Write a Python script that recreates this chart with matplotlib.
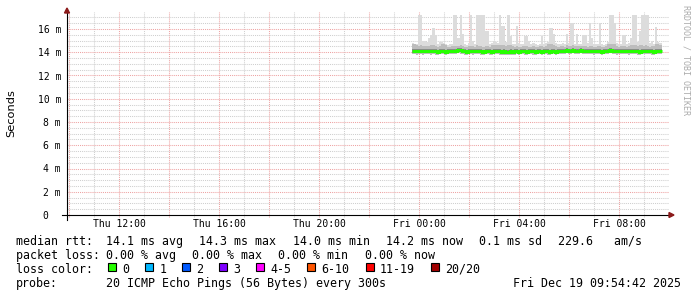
import numpy as np
import matplotlib.pyplot as plt
from matplotlib.patches import Rectangle, Polygon

W, H, DPI = 697, 297, 100

# hours since Thu 00:00
view_start = 9 + 55 / 60
data_start = 23.70
step_h = 5 / 60

# median rtt per 5 min step (ms)
median = [
    14.10, 14.12, 14.15, 14.10, 14.10, 14.15, 14.12, 14.10, 14.10, 14.15,
    14.10, 14.10, 14.05, 14.08, 14.10, 14.10, 14.05, 14.10, 14.12, 14.10,
    14.15, 14.12, 14.18, 14.18, 14.12, 14.10, 14.05, 14.10, 14.12, 14.10,
    14.10, 14.15, 14.12, 14.10, 14.05, 14.10, 14.12, 14.10, 14.05, 14.10,
    14.10, 14.15, 14.10, 14.05, 14.08, 14.03, 14.05, 14.10, 14.03, 14.08,
    14.10, 14.05, 14.10, 14.12, 14.10, 14.05, 14.10, 14.12, 14.10, 14.05,
    14.10, 14.12, 14.05, 14.10, 14.15, 14.10, 14.05, 14.10, 14.12, 14.05,
    14.10, 14.15, 14.15, 14.12, 14.18, 14.15, 14.12, 14.18, 14.15, 14.12,
    14.15, 14.18, 14.12, 14.15, 14.10, 14.12, 14.15, 14.10, 14.10, 14.12,
    14.10, 14.05, 14.10, 14.12, 14.15, 14.18, 14.12, 14.15, 14.10, 14.12,
    14.15, 14.10, 14.12, 14.15, 14.10, 14.12, 14.15, 14.10, 14.10, 14.05,
    14.10, 14.12, 14.15, 14.10, 14.12, 14.10, 14.05, 14.10, 14.12, 14.10,
]
# lowest ping per step
lo = [
    13.85, 13.85, 13.80, 13.85, 13.85, 13.80, 13.85, 13.85, 13.85, 13.80,
    13.85, 13.80, 13.80, 13.85, 13.85, 13.85, 13.80, 13.85, 13.85, 13.85,
    13.85, 13.85, 13.90, 13.85, 13.85, 13.80, 13.80, 13.85, 13.85, 13.80,
    13.85, 13.85, 13.85, 13.80, 13.80, 13.85, 13.85, 13.80, 13.80, 13.85,
    13.85, 13.85, 13.80, 13.80, 13.80, 13.75, 13.80, 13.80, 13.75, 13.80,
    13.85, 13.80, 13.85, 13.85, 13.80, 13.80, 13.85, 13.85, 13.80, 13.80,
    13.85, 13.85, 13.80, 13.85, 13.85, 13.80, 13.80, 13.85, 13.85, 13.80,
    13.85, 13.85, 13.85, 13.85, 13.90, 13.85, 13.85, 13.90, 13.85, 13.85,
    13.85, 13.90, 13.85, 13.85, 13.85, 13.85, 13.85, 13.80, 13.85, 13.85,
    13.85, 13.80, 13.85, 13.85, 13.85, 13.90, 13.85, 13.85, 13.80, 13.85,
    13.85, 13.85, 13.85, 13.85, 13.80, 13.85, 13.85, 13.85, 13.80, 13.80,
    13.85, 13.85, 13.85, 13.85, 13.85, 13.80, 13.80, 13.85, 13.85, 13.85,
]
# upper edge of the dense smoke
hi = [
    14.70, 14.70, 14.60, 14.55, 14.60, 14.50, 14.55, 14.50, 14.55, 14.60,
    14.60, 14.50, 14.45, 14.55, 14.70, 14.70, 14.60, 14.45, 14.45, 14.50,
    14.55, 14.50, 14.55, 14.60, 14.50, 14.45, 14.45, 14.50, 14.55, 14.50,
    14.45, 14.60, 14.55, 14.50, 14.45, 14.50, 14.55, 14.45, 14.60, 14.65,
    14.60, 14.60, 14.65, 14.60, 14.60, 14.55, 14.60, 14.60, 14.50, 14.45,
    14.55, 14.45, 14.45, 14.50, 14.55, 14.50, 14.45, 14.45, 14.50, 14.45,
    14.45, 14.50, 14.55, 14.45, 14.50, 14.70, 14.75, 14.70, 14.65, 14.55,
    14.45, 14.50, 14.50, 14.45, 14.60, 14.50, 14.55, 14.60, 14.50, 14.50,
    14.50, 14.55, 14.50, 14.55, 14.45, 14.55, 14.50, 14.45, 14.45, 14.50,
    14.55, 14.45, 14.45, 14.50, 14.70, 14.75, 14.70, 14.70, 14.50, 14.45,
    14.50, 14.55, 14.50, 14.45, 14.50, 14.60, 14.65, 14.60, 14.55, 14.60,
    14.60, 14.55, 14.60, 14.50, 14.45, 14.55, 14.50, 14.70, 14.70, 14.65,
]
# highest ping per step
mx = [
    14.80, 14.75, 14.70, 17.20, 17.20, 15.00, 15.00, 14.90, 15.20, 15.50,
    16.10, 15.50, 14.70, 14.90, 14.90, 14.80, 14.70, 14.65, 14.70, 14.75,
    17.20, 17.20, 15.20, 17.20, 15.60, 14.70, 14.65, 14.80, 17.20, 15.00,
    14.75, 17.20, 17.20, 17.20, 17.20, 15.80, 15.80, 14.70, 14.80, 15.00,
    14.90, 14.80, 17.20, 16.30, 16.30, 14.90, 17.20, 15.40, 14.75, 14.70,
    16.30, 14.80, 14.70, 14.75, 15.40, 15.40, 15.00, 14.70, 14.80, 14.70,
    14.65, 14.75, 15.40, 14.70, 14.80, 14.90, 16.10, 16.10, 15.60, 14.80,
    14.70, 14.75, 14.80, 14.70, 15.60, 14.80, 16.50, 16.50, 14.75, 15.60,
    14.70, 14.75, 15.50, 15.50, 14.80, 16.50, 15.20, 14.70, 14.75, 14.70,
    16.50, 14.70, 14.65, 14.75, 14.90, 17.20, 17.20, 16.50, 14.80, 14.70,
    14.75, 15.50, 15.50, 14.70, 14.80, 15.20, 17.20, 17.20, 14.90, 15.80,
    17.20, 17.20, 17.20, 17.20, 14.80, 15.00, 14.75, 16.20, 14.90, 14.80,
]

tick_hours = [12, 16, 20, 24, 28, 32]
tick_labels = ['Thu 12:00', 'Thu 16:00', 'Thu 20:00', 'Fri 00:00', 'Fri 04:00', 'Fri 08:00']
y_ticks = [0, 2, 4, 6, 8, 10, 12, 14, 16]
y_labels = ['0  ', '2 m', '4 m', '6 m', '8 m', '10 m', '12 m', '14 m', '16 m']

rtt_items = ['14.1 ms avg', '14.3 ms max', '14.0 ms min', '14.2 ms now', '0.1 ms sd', '229.6   am/s']
loss_items = ['0.00 % avg', '0.00 % max', '0.00 % min', '0.00 % now']
loss_labels = ['0', '1', '2', '3', '4-5', '6-10', '11-19', '20/20']
loss_colors = ['#26ff00', '#00b8ff', '#0059ff', '#7e00ff', '#ff00ff', '#ff5500', '#ff0000', '#a10000']
probe_text = '20 ICMP Echo Pings (56 Bytes) every 300s'
stamp = 'Fri Dec 19 09:54:42 2025'

MONO = 'DejaVu Sans Mono'
GRID_MINOR = '#cfcfcf'
GRID_MAJOR = '#eea3a3'
ARROW = '#8b1a1a'


def fx(x):
    return x / W


def fy(y):
    return 1 - y / H


# plot area in pixels
px_l, px_r, px_t, px_b = 67, 669, 12, 215
hour_px = 25
ms_px = 11.625

fig = plt.figure(figsize=(W / DPI, H / DPI), dpi=DPI)
ax = fig.add_axes([fx(px_l), fy(px_b), (px_r - px_l) / W, (px_b - px_t) / H])
x0, x1 = view_start, view_start + (px_r - px_l) / hour_px
y1 = (px_b - px_t) / ms_px
ax.set_xlim(x0, x1)
ax.set_ylim(0, y1)
for s in ax.spines.values():
    s.set_visible(False)

# grid
dot = (0, (1, 1))
below = -2 / ms_px
for h in range(10, 34):
    c = GRID_MAJOR if h % 2 == 0 else GRID_MINOR
    ax.plot([h, h], [below, y1], color=c, lw=0.75, ls=dot, clip_on=False, zorder=1)
for v in np.arange(0.5, 17.5, 0.5):
    c = GRID_MAJOR if v % 2 == 0 else GRID_MINOR
    ax.plot([x0, x1], [v, v], color=c, lw=0.75, ls=dot, zorder=1)

# smoke + median
edges = data_start + step_h * np.arange(len(median) + 1)
med = np.array(median)
ax.stairs(mx, edges, baseline=lo, fill=True, color='#dcdcdc', zorder=2)
ax.stairs(hi, edges, baseline=lo, fill=True, color='#bdbdbd', zorder=3)
ax.stairs(med + 0.16, edges, baseline=med - 0.17, fill=True, color='#8a8a8a', zorder=4)
ax.stairs(med, edges, baseline=None, color='#26ff00', lw=2.2, zorder=5)

# axes lines and arrows
ax.plot([x0 - 5 / hour_px, x1 + 2 / hour_px], [0, 0], color='black', lw=0.8,
        clip_on=False, zorder=6)
ax.plot([x0, x0], [-5 / ms_px, y1 + 1 / ms_px], color='black', lw=0.8,
        clip_on=False, zorder=6)
fig.add_artist(Polygon([(fx(669), fy(212.5)), (fx(674), fy(215)), (fx(669), fy(217.5))],
                       closed=True, color=ARROW, transform=fig.transFigure))
fig.add_artist(Polygon([(fx(64.5), fy(13)), (fx(67), fy(8)), (fx(69.5), fy(13))],
                       closed=True, color=ARROW, transform=fig.transFigure))

# tick labels
ax.set_xticks(tick_hours, tick_labels)
ax.set_yticks(y_ticks, y_labels)
ax.tick_params(axis='x', length=0, pad=3.2, labelsize=7)
ax.tick_params(axis='y', length=0, pad=4.3, labelsize=7)
for lab in ax.get_xticklabels() + ax.get_yticklabels():
    lab.set_family(MONO)

fig.text(fx(11), fy(113), 'Seconds', rotation=90, ha='center', va='center',
         fontsize=8.2, family='DejaVu Sans')
fig.text(fx(686), fy(5), 'RRDTOOL / TOBI OETIKER', rotation=270, ha='center', va='top',
         fontsize=6, family=MONO, color='#ababab')

# legend block
fs = 8.4
cw = 0.6021 * fs * DPI / 72
gap = 16
lab_x = 15.5
tab_x = 106
rows = [245, 259, 273, 287]


def put(x, y, s, **kw):
    fig.text(fx(x), fy(y), s, fontsize=fs, family=MONO, va='baseline', **kw)


put(lab_x, rows[0], 'median rtt:')
x = tab_x
for s in rtt_items:
    put(x, rows[0], s)
    x += len(s) * cw + gap

put(lab_x, rows[1], 'packet loss:')
x = tab_x
for s in loss_items:
    put(x, rows[1], s)
    x += len(s) * cw + gap

put(lab_x, rows[2], 'loss color:')
bx = tab_x + 2.3
for s, c in zip(loss_labels, loss_colors):
    fig.add_artist(Rectangle((fx(bx), fy(271)), 8 / W, 8 / H, transform=fig.transFigure,
                             facecolor=c, edgecolor='black', lw=0.8))
    tx = bx + 14
    put(tx, rows[2], s)
    bx = tx + len(s) * cw + gap

put(lab_x, rows[3], 'probe:')
put(tab_x, rows[3], probe_text)
put(681, rows[3], stamp, ha='right')

fig.savefig('out.png', dpi=DPI, facecolor='white')
